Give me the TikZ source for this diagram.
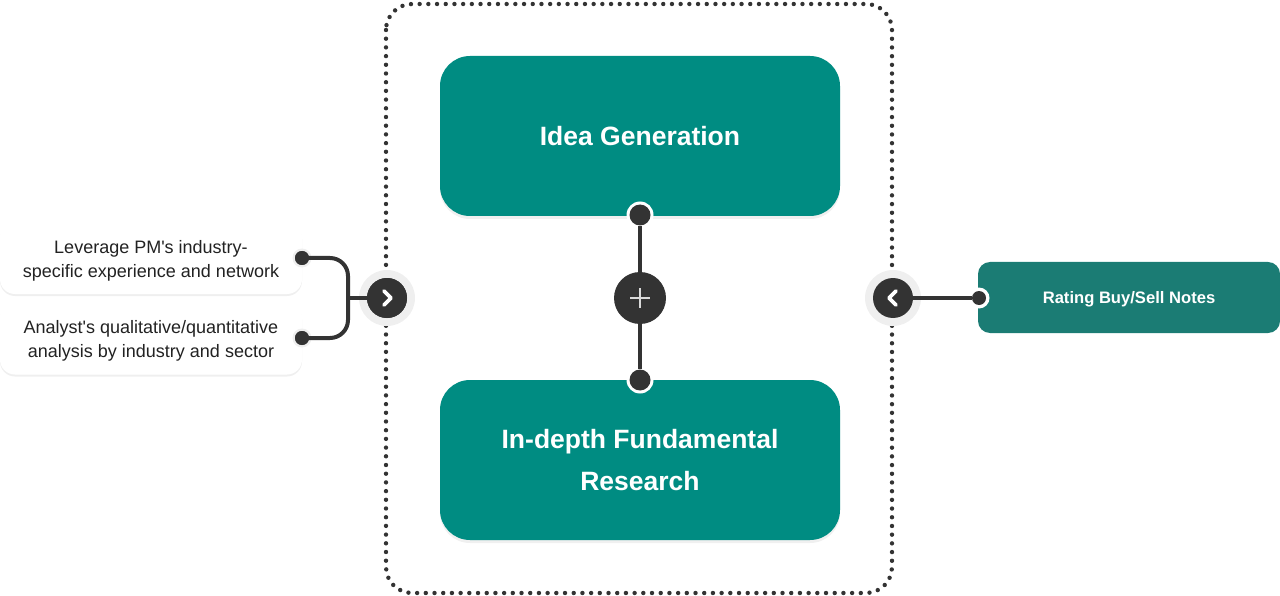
\documentclass[tikz,border=0pt]{standalone}
\usepackage{fontspec}
\setmainfont{Liberation Sans}[Ligatures=TeXOff]
\usetikzlibrary{shadows,calc}
\definecolor{teal1}{HTML}{008C82}
\definecolor{teal2}{HTML}{1B7C74}
\definecolor{darkc}{HTML}{333333}
\definecolor{halo}{HTML}{EFEFEF}
\definecolor{txt}{HTML}{222222}
\tikzset{
  mainbox/.style={fill=teal1, rounded corners=30pt, minimum width=400pt, minimum height=160pt,
    text=white, font=\fontsize{26.5}{42}\selectfont\bfseries, align=center, inner sep=0pt,
    drop shadow={opacity=0.12, shadow xshift=0pt, shadow yshift=-3pt}},
  sidebox/.style={fill=white, rounded corners=15pt, minimum width=302pt, minimum height=72pt,
    inner sep=0pt,
    drop shadow={opacity=0.10, shadow xshift=0pt, shadow yshift=-2pt, fill=black!60}},
  ratebox/.style={fill=teal2, rounded corners=12pt, minimum width=302pt, minimum height=71pt,
    inner sep=0pt},
  conn/.style={draw=darkc, line width=4pt},
  knob/.style={circle, fill=darkc, minimum size=#1, inner sep=0pt},
  ring/.style={circle, fill=white, minimum size=#1, inner sep=0pt},
  haloc/.style={circle, fill=halo, minimum size=#1, inner sep=0pt},
  chev/.style={draw=white, line width=3.6pt, line cap=round, line join=round},
  lbl/.style={text=txt, font=\fontsize{18}{24}\selectfont, align=center, inner sep=0pt},
  ratelbl/.style={text=white, font=\fontsize{16.6}{22}\selectfont\bfseries, inner sep=0pt},
}
\begin{document}
\begin{tikzpicture}[x=1pt,y=-1pt]
\useasboundingbox (0,0) rectangle (1280,596);
% dotted frame
\draw[darkc, line width=4.4pt, line cap=round, dash pattern=on 0pt off 8.7pt, rounded corners=26pt]
  (386,4) rectangle (892,593);
% main boxes
\node[mainbox] (idea) at (640,136) {Idea Generation};
\node[mainbox] (research) at (640,460) {In-depth Fundamental\\Research};
% side boxes
\node[sidebox] (lev) at (151,258) {};
\node[sidebox] (ana) at (151,338.5) {};
\node[lbl] at ($(lev)+(0,3)$) {Leverage PM's industry-\\specific experience and network};
\node[lbl] at ($(ana)+(0,2.5)$) {Analyst's qualitative/quantitative\\analysis by industry and sector};
\node[ratebox] (rate) at (1129,297.5) {};
\node[ratelbl] at ($(rate)+(0,1.5)$) {Rating Buy/Sell Notes};
% centre connector
\node[ring=27pt] at (640,215) {};
\node[ring=27pt] at (640,380) {};
\node[knob=21pt] (dtop) at (640,215) {};
\node[knob=21pt] (dbot) at (640,380) {};
\node[knob=52pt] (plus) at (640,298) {};
\draw[conn] (dtop) -- (plus);
\draw[conn] (plus) -- (dbot);
\draw[halo!80!gray, line width=1.8pt] ($(plus)+(-10,0)$) -- ($(plus)+(10,0)$)
  ($(plus)+(0,-10)$) -- ($(plus)+(0,10)$);
% left connectors
\node[haloc=19pt] at (302,258) {};
\node[haloc=19pt] at (302,338) {};
\node[knob=14pt] (d1) at (302,258) {};
\node[knob=14pt] (d2) at (302,338) {};
\coordinate (j) at (348,298);
\node[haloc=56pt] at (387,298) {};
\node[knob=40pt] (cl) at (387,298) {};
\draw[conn, rounded corners=18pt] (d1.center) -- (348,258) -- (348,338) -- (d2.center);
\draw[conn] (j) -- (cl);
\node[knob=14pt] at (302,258) {};
\node[knob=14pt] at (302,338) {};
\node[knob=40pt] at (387,298) {};
\draw[chev] ($(cl)+(-3,-7)$) -- ($(cl)+(4,0)$) -- ($(cl)+(-3,7)$);
% right connector
\node[haloc=56pt] at (893,298) {};
\node[ring=21pt] at (979,298) {};
\node[knob=14pt] (d3) at (979,298) {};
\node[knob=40pt] (cr) at (893,298) {};
\draw[conn] (cr) -- (d3);
\draw[chev] ($(cr)+(3,-7)$) -- ($(cr)+(-4,0)$) -- ($(cr)+(3,7)$);
\end{tikzpicture}
\end{document}
